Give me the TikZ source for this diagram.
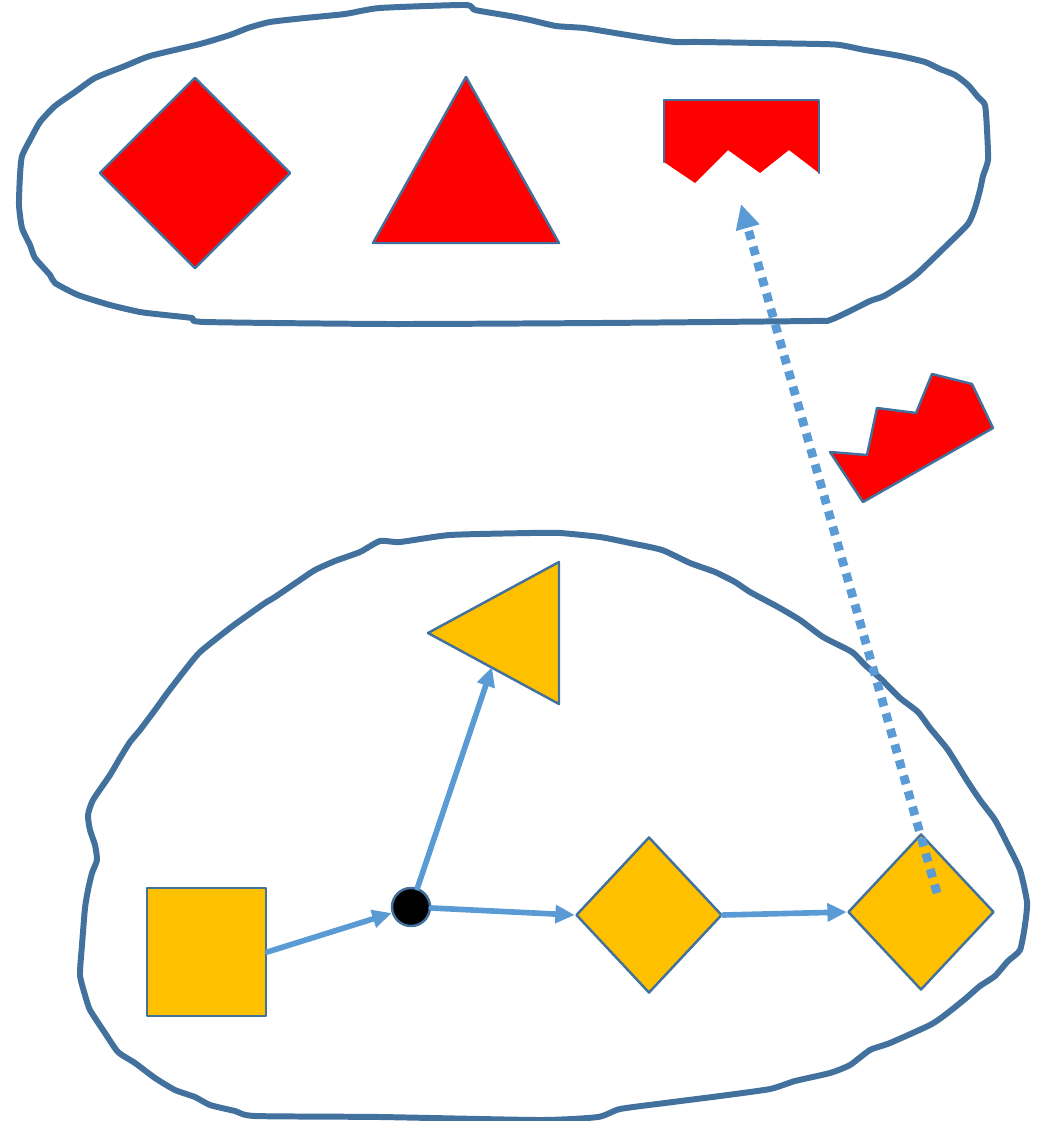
\documentclass[tikz,border=0pt]{standalone}
\usetikzlibrary{arrows.meta,shapes.geometric}

\definecolor{rimblue}{HTML}{41719C}
\definecolor{linkblue}{HTML}{5B9BD5}
\definecolor{gold}{HTML}{FFC000}

\begin{document}
\begin{tikzpicture}[x=0.01cm, y=-0.01cm, line cap=round, line join=round,
    blob/.style={draw=rimblue, line width=1.7pt},
    redpiece/.style={draw=rimblue, fill=red, line width=0.7pt, inner sep=0pt},
    goldpiece/.style={draw=rimblue, fill=gold, line width=0.7pt, inner sep=0pt},
    link/.style={draw=linkblue, line width=1.6pt, -{Triangle[length=5.5pt,width=5pt]}},
    jump/.style={draw=linkblue, line width=2.5pt, line cap=butt,
        dash pattern=on 2.5pt off 2.1pt, -{Triangle[length=7pt,width=6.5pt]}}]

    \useasboundingbox (0,0) rectangle (1038,1121);

    % upper set
    \draw[blob] plot[smooth cycle, tension=0.35] coordinates {
        (465,5) (380,8) (345,14) (305,18) (270,22) (248,28) (230,35) (200,44)
        (150,56) (125,66) (95,78) (75,92) (55,106) (40,122) (30,140) (22,156)
        (20,175) (19,205) (22,228) (30,245) (35,258) (50,275) (55,283) (78,295)
        (110,305) (140,312) (165,315) (192,318) (205,322) (390,324) (600,323)
        (812,321) (830,320) (850,311) (870,301) (884,296) (905,283) (918,273)
        (945,247) (968,224) (975,208) (980,190) (983,176) (988,160) (987,130)
        (985,105) (978,97) (968,85) (955,75) (940,69) (925,62) (900,56)
        (865,50) (840,45) (820,44) (700,42) (675,42) (640,37) (615,33)
        (584,28) (556,26) (530,20) (510,16) (475,10)};

    \node[redpiece, diamond, minimum width=1.91cm, minimum height=1.91cm] (rdiam) at (195,173) {};
    \draw[redpiece] (466,77) -- (559,243) -- (373,243) -- cycle;

    \fill[red] (664,100) -- (819,100) -- (819,173) -- (789,150) -- (760,173)
        -- (728,150) -- (695,183) -- (664,162) -- cycle;
    \draw[rimblue, line width=0.7pt] (664,162) -- (664,100) -- (819,100) -- (819,173);
    \coordinate (crownmark) at (741,204);

    % loose piece
    \draw[redpiece] (830,452) -- (867,455) -- (877,408) -- (916,413) -- (932,374)
        -- (972,384) -- (993,428) -- (863,502) -- cycle;

    % lower set
    \draw[blob] plot[smooth cycle, tension=0.35] coordinates {
        (380,541) (360,552) (335,561) (315,570) (300,580) (275,597) (265,603)
        (248,615) (230,628) (200,652) (185,670) (168,692) (155,710) (140,730)
        (130,742) (120,758) (110,775) (93,800) (88,815) (90,830) (95,845)
        (97,860) (92,873) (88,890) (85,908) (82,945) (80,975) (85,995)
        (90,1010) (105,1033) (118,1052) (135,1063) (155,1078) (175,1090)
        (195,1097) (210,1105) (235,1111) (255,1116) (380,1117) (540,1120)
        (598,1117) (620,1109) (665,1103) (720,1096) (770,1089) (795,1081)
        (830,1073) (850,1065) (870,1050) (890,1043) (930,1025) (945,1015)
        (965,999) (980,986) (995,976) (1008,961) (1020,950) (1025,925)
        (1027,902) (1020,870) (1008,845) (995,820) (980,800) (966,779)
        (948,750) (930,728) (918,712) (900,698) (880,678) (865,665) (852,652)
        (823,637) (800,620) (778,607) (750,592) (735,582) (715,572) (690,563)
        (662,550) (630,543) (600,537) (560,533) (530,533) (450,535) (400,542)};

    \node[goldpiece, rectangle, minimum width=1.19cm, minimum height=1.28cm] (sq) at (206.5,952) {};
    \node[draw=rimblue, fill=black, circle, line width=0.7pt, minimum size=0.38cm, inner sep=0pt] (dot) at (411,907) {};
    \node[goldpiece, diamond, minimum width=1.46cm, minimum height=1.56cm] (d1) at (649,915) {};
    \node[goldpiece, diamond, minimum width=1.46cm, minimum height=1.56cm] (d2) at (921,912) {};
    \draw[goldpiece] (428,633) -- (559,562) -- (559,704) -- cycle;
    \coordinate (triedge) at (492,667);
    \coordinate (jumpstart) at (937,893);

    \draw[link] (sq.east) -- (dot);
    \draw[link] (dot) -- (triedge);
    \draw[link] (dot) -- (d1.west);
    \draw[link] (d1.east) -- (d2.west);

    \draw[jump] (jumpstart) -- (crownmark);

\end{tikzpicture}
\end{document}
